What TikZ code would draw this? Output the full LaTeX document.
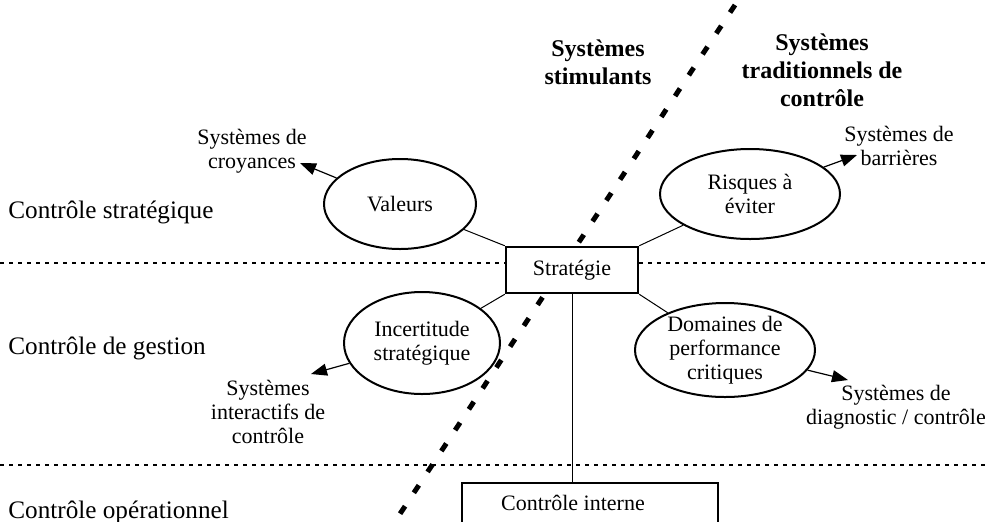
\documentclass[tikz,border=0pt]{standalone}
\usepackage{fontspec}
\setmainfont{Liberation Serif}
\usetikzlibrary{shapes.geometric,arrows.meta}

\begin{document}
\begin{tikzpicture}[x=0.5pt,y=-0.5pt,
  every node/.style={font=\fontsize{11}{12}\selectfont, align=center, inner sep=0pt},
  ell/.style={draw, ellipse, line width=1pt},
  framebox/.style={draw, rectangle, line width=1.25pt, fill=white},
  link/.style={line width=0.5pt},
  toward/.style={line width=0.6pt, -{Triangle[length=8pt,width=6pt]}},
  divider/.style={line width=1pt, dash pattern=on 2pt off 2.5pt},
  split/.style={line width=2.5pt, dash pattern=on 4.5pt off 8pt},
  levelname/.style={anchor=west, font=\fontsize{12.6}{14}\selectfont},
  heading/.style={font=\bfseries\fontsize{12}{14}\selectfont},
  ]
\useasboundingbox (0,0) rectangle (990,521);

% level separators
\draw[divider] (0,263) -- (990,263);
\draw[divider] (0,465) -- (990,465);

% diagonal split between the two families of systems
\coordinate (dtop) at (735,5);
\coordinate (dbot) at (392,526);
\draw[split] (dtop) -- (dbot);

% central boxes
\node[framebox, minimum width=66pt, minimum height=23pt] (strat) at (572,270) {};
\node (stratt) at (strat) {Stratégie};
\node[framebox, minimum width=128pt, minimum height=21pt] (ctrl) at (590,504) {};
\node (ctrlt) at (573,503) {Contrôle interne};
\draw[link] (strat.south) -- (strat.south |- ctrl.north);

% levers
\node[ell, minimum width=76pt, minimum height=45pt] (val) at (400,204) {};
\node (valt) at (val) {Valeurs};
\node[ell, minimum width=90pt, minimum height=45pt] (risk) at (750,194) {};
\node (riskt) at (risk) {Risques à\\éviter};
\node[ell, minimum width=78pt, minimum height=51pt] (inc) at (422,343) {};
\node (inct) at (inc) {Incertitude\\stratégique};
\node[ell, minimum width=90pt, minimum height=47pt] (dom) at (725,350) {};
\node (domt) at (dom) {Domaines de\\performance\\critiques};

\draw[link] (strat.north west) -- (val);
\draw[link] (strat.north east) -- (risk);
\draw[link] (strat.south west) -- (inc);
\draw[link] (strat.south east) -- (dom);

% systems
\node (croy) at (252,151) {Systèmes de\\croyances};
\node (barr) at (899,146) {Systèmes de\\barrières};
\node (inter) at (268,412) {Systèmes\\interactifs de\\contrôle};
\node (diag) at (896,407) {Systèmes de\\diagnostic / contrôle};

\coordinate (croyT) at (300,163);
\coordinate (barrT) at (857,155);
\coordinate (interT) at (311,374);
\coordinate (diagT) at (848,380);
\draw[toward] (val) -- (croyT);
\draw[toward] (risk) -- (barrT);
\draw[toward] (inc) -- (interT);
\draw[toward] (dom) -- (diagT);

% level names
\node[levelname] (lstrat) at (8,212) {Contrôle stratégique};
\node[levelname] (lgest) at (8,348) {Contrôle de gestion};
\node[levelname] (lope) at (8,512) {Contrôle opérationnel};

% headings
\node[heading] (stim) at (598,62) {Systèmes\\stimulants};
\node[heading] (trad) at (822,70) {Systèmes\\traditionnels de\\contrôle};
\end{tikzpicture}
\end{document}
